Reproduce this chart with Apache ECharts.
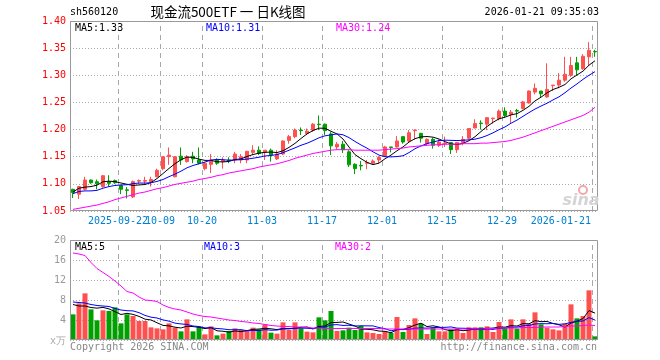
<!DOCTYPE html>
<html><head><meta charset="utf-8">
<script src="https://cdn.jsdelivr.net/npm/echarts@6/dist/echarts.min.js"></script>
<style>html,body{margin:0;padding:0;background:#fff}#c{width:660px;height:360px}</style>
</head><body><div id="c"></div>
<script>
const dates = ['2025-09-10','2025-09-11','2025-09-12','2025-09-15','2025-09-16','2025-09-17','2025-09-18','2025-09-19','2025-09-22','2025-09-23','2025-09-24','2025-09-25','2025-09-26','2025-09-29','2025-09-30',
'2025-10-09','2025-10-10','2025-10-13','2025-10-14','2025-10-15','2025-10-16','2025-10-17','2025-10-20','2025-10-21','2025-10-22','2025-10-23','2025-10-24','2025-10-27','2025-10-28','2025-10-29','2025-10-30','2025-10-31',
'2025-11-03','2025-11-04','2025-11-05','2025-11-06','2025-11-07','2025-11-10','2025-11-11','2025-11-12','2025-11-13','2025-11-14','2025-11-17','2025-11-18','2025-11-19','2025-11-20','2025-11-21','2025-11-24','2025-11-25','2025-11-26','2025-11-27','2025-11-28',
'2025-12-01','2025-12-02','2025-12-03','2025-12-04','2025-12-05','2025-12-08','2025-12-09','2025-12-10','2025-12-11','2025-12-12','2025-12-15','2025-12-16','2025-12-17','2025-12-18','2025-12-19','2025-12-22','2025-12-23','2025-12-24','2025-12-25','2025-12-26','2025-12-29','2025-12-30','2025-12-31',
'2026-01-05','2026-01-06','2026-01-07','2026-01-08','2026-01-09','2026-01-12','2026-01-13','2026-01-14','2026-01-15','2026-01-16','2026-01-19','2026-01-20','2026-01-21'];

const tickDates = ['2025-09-22','2025-10-09','2025-10-20','2025-11-03','2025-11-17','2025-12-01','2025-12-15','2025-12-29','2026-01-21'];
const tickTexts = ['2025-09-22','10-09','10-20','11-03','11-17','12-01','12-15','12-29','2026-01-21'];

const opens = [1.090,1.081,1.090,1.107,1.104,1.095,1.104,1.106,1.097,1.089,
1.076,1.105,1.105,1.104,1.113,1.128,1.150,1.113,1.151,1.141,
1.151,1.144,1.128,1.136,1.144,1.141,1.144,1.144,1.144,1.144,
1.158,1.162,1.158,1.162,1.146,1.155,1.180,1.187,1.199,1.193,
1.199,1.210,1.210,1.192,1.168,1.173,1.159,1.136,1.134,1.138,
1.138,1.144,1.151,1.168,1.168,1.187,1.179,1.198,1.193,1.174,
1.182,1.171,1.174,1.176,1.163,1.176,1.184,1.203,1.212,1.210,
1.220,1.220,1.234,1.228,1.235,1.239,1.249,1.269,1.271,1.260,
1.281,1.282,1.291,1.300,1.323,1.312,1.334,1.344];
const closes = [1.084,1.095,1.107,1.102,1.100,1.115,1.101,1.102,1.090,1.088,
1.104,1.106,1.106,1.108,1.125,1.150,1.153,1.150,1.144,1.150,
1.146,1.138,1.138,1.144,1.138,1.144,1.143,1.155,1.150,1.160,
1.162,1.156,1.162,1.153,1.155,1.179,1.187,1.199,1.198,1.197,
1.210,1.209,1.198,1.170,1.173,1.163,1.135,1.128,1.133,1.139,
1.142,1.149,1.168,1.167,1.179,1.177,1.194,1.199,1.184,1.182,
1.171,1.177,1.175,1.163,1.176,1.182,1.202,1.211,1.211,1.222,
1.221,1.234,1.226,1.232,1.234,1.251,1.271,1.276,1.266,1.274,
1.282,1.291,1.302,1.318,1.310,1.335,1.346,1.343];
const lows = [1.074,1.072,1.088,1.100,1.090,1.093,1.095,1.100,1.081,1.073,
1.074,1.100,1.100,1.095,1.112,1.125,1.135,1.112,1.135,1.139,
1.138,1.136,1.125,1.120,1.135,1.128,1.138,1.138,1.138,1.138,
1.153,1.153,1.144,1.141,1.144,1.153,1.174,1.184,1.190,1.190,
1.196,1.199,1.190,1.153,1.163,1.157,1.131,1.118,1.125,1.127,
1.135,1.138,1.150,1.158,1.167,1.174,1.177,1.182,1.176,1.171,
1.165,1.168,1.168,1.155,1.157,1.171,1.182,1.202,1.200,1.199,
1.211,1.217,1.222,1.212,1.222,1.237,1.248,1.265,1.260,1.259,
1.271,1.276,1.288,1.297,1.300,1.310,1.318,1.334];
const highs = [1.091,1.096,1.113,1.108,1.108,1.116,1.116,1.108,1.098,1.094,
1.106,1.108,1.113,1.113,1.128,1.151,1.167,1.151,1.167,1.153,
1.159,1.167,1.140,1.155,1.147,1.149,1.149,1.159,1.155,1.160,
1.171,1.169,1.162,1.165,1.162,1.180,1.190,1.202,1.204,1.202,
1.212,1.226,1.211,1.196,1.177,1.179,1.162,1.138,1.142,1.144,
1.145,1.151,1.170,1.168,1.188,1.187,1.199,1.200,1.194,1.184,
1.185,1.182,1.187,1.177,1.177,1.188,1.202,1.219,1.217,1.222,
1.222,1.237,1.241,1.236,1.238,1.253,1.272,1.285,1.271,1.322,
1.282,1.304,1.334,1.334,1.334,1.339,1.361,1.347];

const ma5 = [1.085,1.092,1.094,1.095,1.0976,1.1038,1.105,1.104,1.1016,1.0992,
1.097,1.098,1.0988,1.1024,1.1098,1.119,1.1284,1.1372,1.1444,1.1494,
1.1486,1.1456,1.1432,1.1432,1.1408,1.1404,1.1414,1.1448,1.146,1.1504,
1.154,1.1566,1.158,1.1586,1.1576,1.161,1.1672,1.1746,1.1836,1.192,
1.1982,1.2026,1.2024,1.1968,1.192,1.1826,1.1678,1.1538,1.1464,1.1396,
1.1354,1.1382,1.1462,1.153,1.161,1.168,1.177,1.1832,1.1866,1.1872,
1.186,1.1826,1.1778,1.1736,1.1724,1.1746,1.1796,1.1868,1.1964,1.2056,
1.2134,1.2198,1.2228,1.227,1.2294,1.2354,1.2428,1.2528,1.2596,1.2676,
1.2738,1.2778,1.283,1.2934,1.3006,1.3076,1.3186,1.3268];
const ma10 = [1.082,1.086,1.087,1.087,1.088,1.092,1.095,1.097,1.098,1.0984,
1.1004,1.1015,1.1014,1.102,1.1045,1.108,1.1132,1.118,1.1234,1.1296,
1.1338,1.137,1.1402,1.1438,1.1451,1.1445,1.1435,1.144,1.1446,1.1456,
1.1472,1.149,1.1514,1.1523,1.154,1.1575,1.1619,1.1663,1.1711,1.1748,
1.1796,1.1849,1.1885,1.1902,1.192,1.1904,1.1852,1.1781,1.1716,1.1658,
1.159,1.153,1.15,1.1497,1.1503,1.1517,1.1576,1.1647,1.1698,1.1741,
1.177,1.1798,1.1805,1.1801,1.1798,1.1803,1.1811,1.1823,1.185,1.189,
1.194,1.1997,1.2048,1.2117,1.2175,1.2244,1.2313,1.2378,1.2433,1.2485,
1.2546,1.2603,1.2679,1.2765,1.2841,1.2925,1.3,1.3067];
const ma30 = [1.053,1.055,1.057,1.059,1.061,1.064,1.067,1.071,1.074,1.077,
1.080,1.083,1.085,1.088,1.091,1.093,1.096,1.099,1.101,1.103,
1.105,1.108,1.110,1.112,1.115,1.117,1.120,1.122,1.124,1.126,
1.128,1.131,1.133,1.135,1.137,1.140,1.143,1.147,1.150,1.153,
1.156,1.158,1.160,1.162,1.163,1.163,1.163,1.162,1.162,1.162,
1.162,1.162,1.163,1.164,1.165,1.166,1.168,1.169,1.170,1.171,
1.172,1.172,1.173,1.173,1.173,1.174,1.174,1.174,1.175,1.175,
1.176,1.177,1.178,1.180,1.183,1.186,1.190,1.194,1.198,1.202,
1.206,1.210,1.214,1.218,1.222,1.226,1.232,1.241];

const volumes = [5.13,7.33,9.33,6.13,3.93,5.93,5.8,6.53,3.33,5.13,
4.8,3.8,3.8,2.53,2.33,2.13,3.33,2.47,1.73,4.13,
1.73,2.67,1.13,2.73,0.93,1.27,1.8,2.33,2.0,2.0,
2.47,2.13,3.13,1.47,1.27,3.53,2.0,3.53,2.33,1.67,
1.53,4.53,3.93,5.8,1.8,1.93,2.47,2.0,2.8,1.53,
1.4,1.2,1.73,1.4,4.6,1.6,3.0,4.33,3.27,1.2,
2.47,1.73,1.73,2.13,2.27,1.4,2.53,2.53,2.53,2.73,
1.6,3.6,2.33,4.13,2.27,4.13,3.27,5.53,3.13,2.47,
2.13,1.93,3.27,7.13,4.33,4.8,9.93,0.73];
const volMa5 = [7.1,6.8,6.8,6.5,6.37,6.53,6.22,5.66,5.10,5.34,
5.12,4.72,4.17,4.01,3.45,2.92,2.82,2.56,2.40,2.76,
2.68,2.55,2.28,2.48,1.84,1.75,1.57,1.81,1.67,1.88,
2.12,2.19,2.35,2.24,2.09,2.31,2.28,2.36,2.53,2.61,
2.21,2.72,2.80,3.49,3.52,3.60,3.19,2.80,2.20,2.15,
2.04,1.79,1.73,1.45,2.07,2.11,2.47,2.99,3.36,2.68,
2.85,2.60,2.08,1.85,2.07,1.85,2.01,2.17,2.25,2.34,
2.38,2.60,2.56,2.88,2.79,3.29,3.23,3.87,3.67,3.71,
3.31,3.04,2.59,3.39,3.76,4.29,5.89,5.38];
const volMa10 = [7.6,7.5,7.4,7.1,6.9,6.8,6.7,6.3,6.0,5.86,
5.82,5.47,4.92,4.56,4.40,4.02,3.77,3.37,3.21,3.11,
2.80,2.69,2.42,2.44,2.30,2.21,2.06,2.05,2.07,1.86,
1.93,1.88,2.08,1.95,1.99,2.21,2.23,2.35,2.39,2.35,
2.26,2.50,2.58,3.01,3.07,2.91,2.95,2.80,2.85,2.83,
2.82,2.49,2.27,1.83,2.11,2.07,2.13,2.36,2.41,2.37,
2.48,2.53,2.53,2.61,2.37,2.35,2.31,2.13,2.05,2.21,
2.12,2.31,2.37,2.57,2.57,2.84,2.91,3.21,3.27,3.25,
3.30,3.13,3.23,3.53,3.73,3.80,4.47,3.99];
const volMa30 = [17.4,17.2,16.9,15.5,14.3,13.5,12.7,11.8,10.8,9.7,
9.4,8.6,8.0,7.9,7.7,7.0,6.5,6.2,6.0,5.6,
5.2,4.9,4.7,4.6,4.4,4.2,4.0,3.9,3.7,3.6,
3.4,3.3,3.1,2.9,2.8,2.7,2.7,2.6,2.6,2.5,
2.4,2.4,2.3,2.3,2.3,2.3,2.3,2.3,2.3,2.3,
2.3,2.3,2.2,2.2,2.2,2.2,2.2,2.2,2.2,2.2,
2.2,2.2,2.2,2.2,2.2,2.2,2.2,2.2,2.2,2.3,
2.3,2.4,2.4,2.4,2.4,2.5,2.5,2.5,2.6,2.6,
2.6,2.6,2.7,2.8,2.8,2.9,3.0,2.9];

const RED = '#ff5050', GREEN = '#00a000';
const MONO = '"DejaVu Sans Mono", monospace';
const last = dates.length - 1;
const tickIdx = tickDates.map(d => dates.indexOf(d));
const N = dates.length;
const PX_NUDGE = 0.5 / (528 / N); // half-pixel, keeps 1px lines crisp

const chart = echarts.init(document.getElementById('c'), null, {renderer: 'canvas'});

function txt(x, y, s, color, align, font) {
  return {type: 'text', x: x, y: y, z: 100, silent: true,
    style: {text: s, fill: color, font: font || ('10px ' + MONO), align: align || 'left', verticalAlign: 'middle',
      textAlign: align || 'left', textVerticalAlign: 'middle'}};
}

const baseGraphics = [
  txt(70, 12, 'sh560120', '#000'),
  txt(228, 12, '现金流500ETF 一 日K线图', '#000', 'center', '13.5px "Noto Sans CJK SC", sans-serif'),
  txt(599, 12, '2026-01-21 09:35:03', '#000', 'right'),
  txt(75, 28, 'MA5:' + ma5[last].toFixed(2), '#000'),
  txt(206, 28, 'MA10:' + ma10[last].toFixed(2), '#0000ff'),
  txt(336, 28, 'MA30:' + ma30[last].toFixed(2), '#ff00ff'),
  txt(75, 247, 'MA5:' + Math.floor(volMa5[last]), '#000'),
  txt(204, 247, 'MA10:' + Math.floor(volMa10[last]), '#0000ff'),
  txt(335, 247, 'MA30:' + Math.floor(volMa30[last]), '#ff00ff'),
  txt(66, 341, 'x万', '#aaa', 'right'),
  txt(70, 347, 'Copyright 2026 SINA.COM', '#888'),
  txt(597, 347, 'http://finance.sina.com.cn', '#888', 'right'),
  {type: 'circle', z: 90, silent: true, shape: {cx: 583, cy: 190, r: 4}, style: {fill: 'none', stroke: '#f2a8a8', lineWidth: 2}},
  txt(581, 201, 'sina', '#d4d4d4', 'center', 'italic bold 16px "DejaVu Sans", sans-serif'),
  {type: 'rect', z: 50, silent: true, shape: {x: 70.5, y: 21.5, width: 527, height: 189}, style: {fill: 'none', stroke: '#999', lineWidth: 1}},
  {type: 'rect', z: 50, silent: true, shape: {x: 70.5, y: 240.5, width: 527, height: 99}, style: {fill: 'none', stroke: '#999', lineWidth: 1}}
];

// vertical dashed date gridlines: line series on a hidden value x axis whose unit is one trading-day band
function gridSeries(xAxisIndex, yAxisIndex, y0, y1) {
  return tickIdx.map(i => ({
    type: 'line', xAxisIndex: xAxisIndex, yAxisIndex: yAxisIndex, silent: true, showSymbol: false, z: 1,
    data: [[i + PX_NUDGE, y0], [i + PX_NUDGE, y1]],
    lineStyle: {color: '#a8a8a8', width: 1, type: [5, 4]}
  }));
}

const option = {
  animation: false,
  backgroundColor: '#fff',
  grid: [
    {left: 70, top: 21, width: 528, height: 190, show: false},
    {left: 70, top: 240, width: 528, height: 100, show: false}
  ],
  xAxis: [
    {type: 'category', gridIndex: 0, data: dates, boundaryGap: true,
      axisLine: {show: false}, axisTick: {show: false}, splitLine: {show: false}, axisLabel: {show: false}},
    {type: 'category', gridIndex: 1, data: dates, boundaryGap: true,
      axisLine: {show: false}, axisTick: {show: false}, splitLine: {show: false}, axisLabel: {show: false}},
    {type: 'value', gridIndex: 0, min: 0, max: N, show: false},
    {type: 'value', gridIndex: 1, min: 0, max: N, show: false}
  ],
  yAxis: [
    {type: 'value', gridIndex: 0, min: 1.05, max: 1.40, interval: 0.05, scale: true,
      axisLine: {show: false}, axisTick: {show: false},
      splitLine: {show: true, lineStyle: {color: '#aaa', type: [1, 2]}},
      axisLabel: {formatter: v => v.toFixed(2), color: '#ff0000', fontFamily: MONO, fontSize: 10, margin: 4}},
    {type: 'value', gridIndex: 1, min: 0, max: 20, interval: 4,
      axisLine: {show: false}, axisTick: {show: false},
      splitLine: {show: true, lineStyle: {color: '#aaa', type: [1, 2]}},
      axisLabel: {formatter: v => v === 0 ? '' : String(v), color: '#999', fontFamily: MONO, fontSize: 10, margin: 4}}
  ],
  series: [
    {type: 'candlestick', xAxisIndex: 0, yAxisIndex: 0, barWidth: 4, z: 3,
      data: dates.map((d, i) => [opens[i], closes[i], lows[i], highs[i]]),
      itemStyle: {color: RED, color0: GREEN, borderColor: RED, borderColor0: GREEN, borderWidth: 1},
      emphasis: {disabled: true}},
    {type: 'line', xAxisIndex: 0, yAxisIndex: 0, data: ma5, showSymbol: false, z: 5, lineStyle: {color: '#000', width: 1}, silent: true},
    {type: 'line', xAxisIndex: 0, yAxisIndex: 0, data: ma10, showSymbol: false, z: 5, lineStyle: {color: '#0000ff', width: 1}, silent: true},
    {type: 'line', xAxisIndex: 0, yAxisIndex: 0, data: ma30, showSymbol: false, z: 5, lineStyle: {color: '#ff00ff', width: 1}, silent: true},
    {type: 'bar', xAxisIndex: 1, yAxisIndex: 1, barWidth: 5, z: 3,
      data: volumes.map((v, i) => ({value: v, itemStyle: {color: closes[i] >= opens[i] ? RED : GREEN}})),
      emphasis: {disabled: true}},
    {type: 'line', xAxisIndex: 1, yAxisIndex: 1, data: volMa5, showSymbol: false, z: 5, lineStyle: {color: '#000', width: 1}, silent: true},
    {type: 'line', xAxisIndex: 1, yAxisIndex: 1, data: volMa10, showSymbol: false, z: 5, lineStyle: {color: '#0000ff', width: 1}, silent: true},
    {type: 'line', xAxisIndex: 1, yAxisIndex: 1, data: volMa30, showSymbol: false, z: 5, lineStyle: {color: '#ff00ff', width: 1}, silent: true}
  ].concat(gridSeries(2, 0, 1.05, 1.40), gridSeries(3, 1, 0, 20)),
  graphic: baseGraphics
};
chart.setOption(option);

// date labels positioned through the category axis scale
const c0 = chart.convertToPixel({xAxisIndex: 0}, dates[0]);
const c1 = chart.convertToPixel({xAxisIndex: 0}, dates[1]);
const bw = c1 - c0;
const labels = tickDates.map((d, k) => {
  const cx = chart.convertToPixel({xAxisIndex: 0}, d);
  const xl = Math.round(cx - bw / 2) + 0.5;
  const isLast = k === tickDates.length - 1;
  return txt(isLast ? xl - 1.5 : xl - 0.5, 221, tickTexts[k], '#0080d0', isLast ? 'right' : 'center');
});
chart.setOption({graphic: baseGraphics.concat(labels)});
</script></body></html>
